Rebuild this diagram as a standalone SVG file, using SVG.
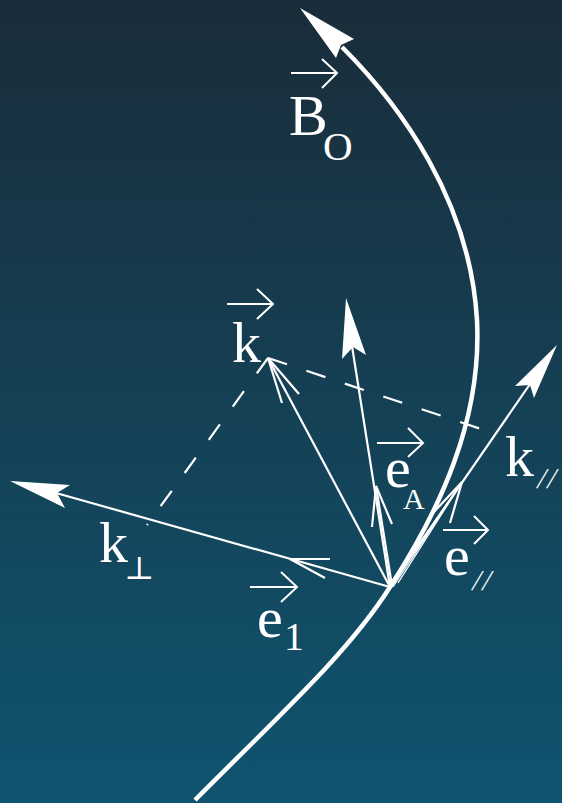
<svg xmlns="http://www.w3.org/2000/svg" width="562" height="803" viewBox="0 0 562 803">
<defs>
<linearGradient id="bg" x1="0" y1="0" x2="0" y2="1">
<stop offset="0" stop-color="#1a2c39"/>
<stop offset="1" stop-color="#0f5470"/>
</linearGradient>
</defs>
<style>
.ln{stroke:#fff;stroke-width:2.2;fill:none;stroke-linecap:butt}
.th{stroke:#fff;stroke-width:1.3;fill:none}
.hd{fill:#fff;stroke:none}
.vec{stroke:#fff;stroke-width:2;fill:none}
.dash{stroke:#fff;stroke-width:2.2;fill:none}
text{fill:#fff;font-family:'Liberation Serif','Times New Roman',serif}
</style>
<rect x="0" y="0" width="562" height="803" fill="url(#bg)"/>

<g id="field-line">
<path d="M342,47 C400,105 470,200 477,320 C482,420 440,510 390,587 C350,650 290,705 195,800" stroke="#fff" stroke-width="4.5" fill="none"/>
<path class="hd" d="M300,8 L354,39 L341,45 L336,58 Z"/>
</g>

<g id="connectors">
<line class="ln" x1="390" y1="587" x2="268" y2="358"/>
<polyline class="ln" points="282,403 268,358 299,394"/>
<line class="ln" x1="390" y1="587" x2="352" y2="346"/>
<path class="hd" d="M346,298 L366,355 L353,347 L342,359 Z"/>
<line class="ln" x1="392" y1="586" x2="376" y2="486"/>
<polyline class="ln" points="372,527 376,486 392,524"/>
<line class="ln" x1="390" y1="587" x2="530" y2="384"/>
<path class="hd" d="M557,345 L534,398 L530,385 L515,386 Z"/>
<line class="th" x1="388" y1="588" x2="462" y2="482"/>
<line class="th" x1="393" y1="587" x2="462" y2="482"/>
<line class="th" x1="398" y1="583" x2="462" y2="482"/>
<polyline class="ln" points="433,513 462,482 450,523"/>
<line class="ln" x1="390" y1="587" x2="56" y2="493"/>
<path class="hd" d="M10,481 L70,485 L57,493 L65,508 Z"/>
<polyline class="ln" points="330,559 290,559 325,578"/>
<line class="dash" x1="268" y1="358" x2="481" y2="429" stroke-dasharray="20 20.5"/>
<line class="dash" x1="268" y1="358" x2="147" y2="525" stroke-dasharray="19 22"/>
</g>

<g id="label-B0">
<line class="vec" x1="291" y1="73" x2="337" y2="73"/>
<polyline class="vec" points="322,59 337,73 322,88"/>
<text x="289" y="135" font-size="58">B</text>
<text x="323" y="160" font-size="41">O</text>
</g>

<g id="label-k">
<line class="vec" x1="227" y1="304" x2="273" y2="304"/>
<polyline class="vec" points="257,289 273,304 257,319"/>
<text x="232" y="362" font-size="58">k</text>
</g>

<g id="label-eA">
<line class="vec" x1="377" y1="443" x2="423" y2="443"/>
<polyline class="vec" points="408,428 423,443 408,457"/>
<text x="385" y="487" font-size="58">e</text>
<text x="403" y="509" font-size="30">A</text>
</g>

<g id="label-kpar">
<text x="505" y="476" font-size="58">k</text>
<text font-size="29" letter-spacing="2" transform="translate(536,488) skewX(-14)">//</text>
</g>

<g id="label-epar">
<line class="vec" x1="443" y1="530" x2="488" y2="530"/>
<polyline class="vec" points="474,516 488,530 474,544"/>
<text x="444" y="575" font-size="58">e</text>
<text font-size="29" letter-spacing="2" transform="translate(471,590) skewX(-14)">//</text>
</g>

<g id="label-kperp">
<text x="99" y="562" font-size="58">k</text>
<text x="124" y="579" font-size="32" style="font-family:'DejaVu Serif','DejaVu Sans',serif">⊥</text>
</g>

<g id="label-e1">
<line class="vec" x1="250" y1="587" x2="297" y2="587"/>
<polyline class="vec" points="281,572 297,587 281,602"/>
<text x="257" y="637" font-size="58">e</text>
<text x="284" y="650" font-size="40">1</text>
</g>
</svg>
